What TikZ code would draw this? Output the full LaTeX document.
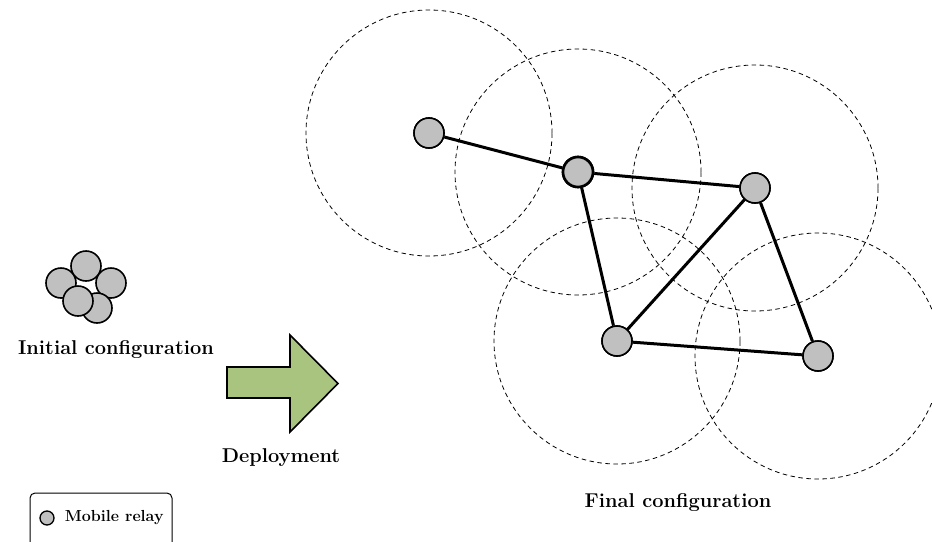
\documentclass[tikz,border=0pt]{standalone}
\usepackage{tikz}
\usetikzlibrary{positioning}
\usepackage{xcolor}
\definecolor{relaygray}{RGB}{192,192,192}
\definecolor{deploygreen}{RGB}{169,196,127}
\tikzset{relaynode/.style={circle, fill=relaygray, draw=black, line width=1.6pt, minimum size=30pt, inner sep=0pt},
smallrelaynode/.style={circle, fill=relaygray, draw=black, line width=1.3pt, minimum size=14pt, inner sep=0pt},
rangecircle/.style={draw=black, line width=0.8pt, dash pattern=on 4.5pt off 3.5pt},
linkline/.style={draw=black, line width=3pt},
captiontext/.style={font=\bfseries\fontsize{20}{24}\selectfont, inner sep=0pt}}

\begin{document}
\begin{tikzpicture}[x=1pt, y=-1pt, line join=miter]
        \useasboundingbox (0, 0) rectangle (932, 541);
        % Range of each relay
        \foreach \name/\x/\y/\w in {
            r1/429/133/1.6pt,
            r2/578/172/2.6pt,
            r3/755/188/1.6pt,
            r4/617/341/1.6pt,
            r5/818/356/1.6pt} {
            \draw[rangecircle] (\x, \y) circle (123pt);
            \node[relaynode, line width=\w] (\name) at (\x, \y) {};
        }
        % Links
        \draw[linkline] (r1) -- (r2);
        \draw[linkline] (r2) -- (r3);
        \draw[linkline] (r2) -- (r4);
        \draw[linkline] (r3) -- (r4);
        \draw[linkline] (r3) -- (r5);
        \draw[linkline] (r4) -- (r5);
        % Relays again on top of the links
        \foreach \name/\x/\y/\w in {
            r1/429/133/1.6pt,
            r2/578/172/2.6pt,
            r3/755/188/1.6pt,
            r4/617/341/1.6pt,
            r5/818/356/1.6pt} {
            \node[relaynode, line width=\w] at (\name) {};
        }
        % Initial configuration
        \foreach \x/\y [count=\i] in {61/283, 86/266, 111/283, 97/308, 78/301} {
            \node[relaynode] (init\i) at (\x, \y) {};
        }
        \node[captiontext] (initlabel) at (116, 350) {Initial configuration};
        % Deployment arrow
        \draw[fill=deploygreen, line width=1.6pt] (227, 367) -- (290, 367) -- (290, 335) -- (338, 383.5) -- (290, 432) -- (290, 398) -- (227, 398) -- cycle;
        \node[captiontext] (deploylabel) at (281, 458) {Deployment};
        \node[captiontext] (finallabel) at (678, 503) {Final configuration};
        % Legend
        \draw[line width=1pt, rounded corners=5pt] (30, 493) rectangle (172, 570);
        \node[smallrelaynode] (legendrelay) at (47, 518) {};
        \node[right=10pt of legendrelay, font=\bfseries\fontsize{16}{19}\selectfont, inner sep=0pt] (legendlabel) {Mobile relay};
    \end{tikzpicture}
\end{document}
